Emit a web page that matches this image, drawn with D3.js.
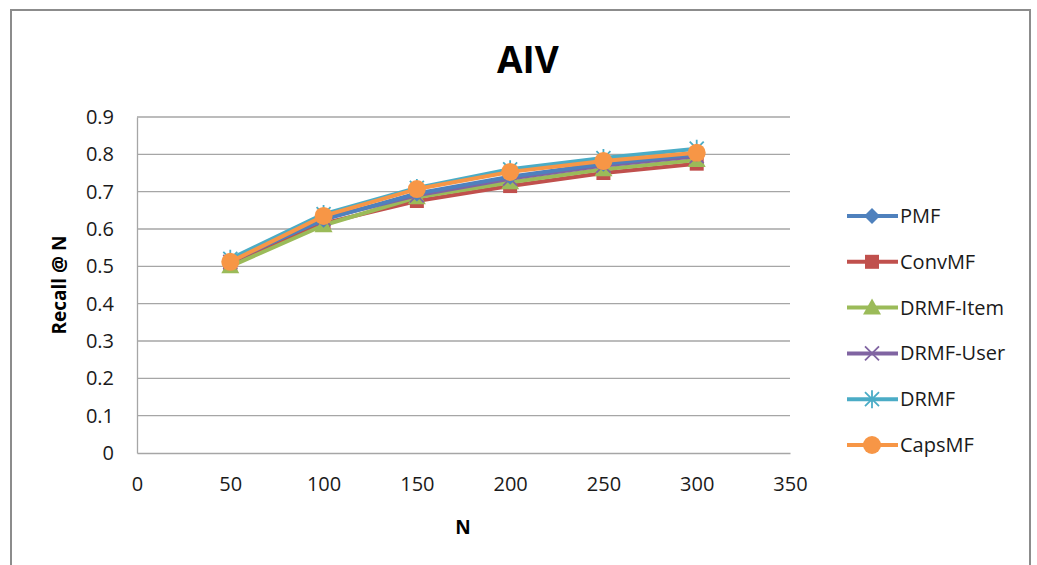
<!DOCTYPE html>
<html><head><meta charset="utf-8">
<script src="https://cdn.jsdelivr.net/npm/d3@7"></script>
<style>body{margin:0;background:#fff;} svg{display:block;}</style>
</head><body>
<script>
const nValues = [50, 100, 150, 200, 250, 300];
const seriesNames = ["PMF", "ConvMF", "DRMF-Item", "DRMF-User", "DRMF", "CapsMF"];
const pmf      = [0.515, 0.625, 0.695, 0.740, 0.775, 0.800];
const convmf   = [0.505, 0.615, 0.675, 0.715, 0.750, 0.775];
const drmfItem = [0.500, 0.610, 0.685, 0.725, 0.760, 0.785];
const drmfUser = [0.512, 0.628, 0.690, 0.735, 0.770, 0.795];
const drmf     = [0.520, 0.640, 0.710, 0.760, 0.790, 0.815];
const capsmf   = [0.512, 0.635, 0.707, 0.753, 0.782, 0.804];
const xTicks = [0, 50, 100, 150, 200, 250, 300, 350];
const yTicks = [0, 0.1, 0.2, 0.3, 0.4, 0.5, 0.6, 0.7, 0.8, 0.9];

const colors = ["#4F81BD", "#C0504D", "#9BBB59", "#8064A2", "#4BACC6", "#F79646"];
const markers = ["diamond", "square", "triangle", "x", "star", "circle"];
const data = [pmf, convmf, drmfItem, drmfUser, drmf, capsmf];
const drawOrder = [1, 2, 3, 0, 4, 5];

const W = 1037, H = 565;
const svg = d3.select("body").append("svg").attr("width", W).attr("height", H);
const font = "'Open Sans', 'Liberation Sans', sans-serif";

svg.append("rect").attr("x", 11).attr("y", 10).attr("width", 1019).attr("height", 570)
  .attr("fill", "#fff").attr("stroke", "#8c8c8c").attr("stroke-width", 2);

const x = d3.scaleLinear().domain([0, 350]).range([137, 790]);
const y = d3.scaleLinear().domain([0, 0.9]).range([453, 117]);

// gridlines
svg.append("g").selectAll("line").data(yTicks.slice(1)).join("line")
  .attr("x1", x(0)).attr("x2", x(350))
  .attr("y1", d => y(d)).attr("y2", d => y(d))
  .attr("stroke", "#a6a6a6").attr("stroke-width", 1.3);

// axes
const xAxis = svg.append("g").attr("transform", `translate(0,${y(0)})`)
  .call(d3.axisBottom(x).tickValues(xTicks).tickSize(0).tickPadding(24).tickFormat(d3.format("d")));
const yAxis = svg.append("g").attr("transform", `translate(${x(0)},0)`)
  .call(d3.axisLeft(y).tickValues(yTicks).tickSize(0).tickPadding(23).tickFormat(d => d === 0 ? "0" : d3.format(".1f")(d)));
[xAxis, yAxis].forEach(g => {
  g.select(".domain").attr("stroke", "#a6a6a6").attr("stroke-width", 1.3);
  g.selectAll("text").attr("font-family", font).attr("font-size", 20).attr("fill", "#1a1a1a");
});

// title and labels
svg.append("text").attr("x", 528).attr("y", 73).attr("text-anchor", "middle")
  .attr("font-family", font).attr("font-weight", "bold").attr("font-size", 37).text("AIV");
svg.append("text").attr("transform", `translate(66,285) rotate(-90)`).attr("text-anchor", "middle")
  .attr("font-family", font).attr("font-weight", "bold").attr("font-size", 19).text("Recall @ N");
svg.append("text").attr("x", 463).attr("y", 534).attr("text-anchor", "middle")
  .attr("font-family", font).attr("font-weight", "bold").attr("font-size", 19).text("N");

function drawMarker(g, type, cx, cy, color) {
  if (type === "diamond") {
    g.append("path").attr("d", `M${cx},${cy-8}L${cx+8},${cy}L${cx},${cy+8}L${cx-8},${cy}Z`).attr("fill", color);
  } else if (type === "square") {
    g.append("rect").attr("x", cx-7).attr("y", cy-7).attr("width", 14).attr("height", 14).attr("fill", color);
  } else if (type === "triangle") {
    g.append("path").attr("d", `M${cx},${cy-9}L${cx+9},${cy+7}L${cx-9},${cy+7}Z`).attr("fill", color);
  } else if (type === "x") {
    g.append("path").attr("d", `M${cx-7},${cy-7}L${cx+7},${cy+7}M${cx-7},${cy+7}L${cx+7},${cy-7}`)
      .attr("stroke", color).attr("stroke-width", 1.8).attr("fill", "none");
  } else if (type === "star") {
    g.append("path").attr("d", `M${cx-7},${cy-7}L${cx+7},${cy+7}M${cx-7},${cy+7}L${cx+7},${cy-7}M${cx},${cy-9}L${cx},${cy+9}`)
      .attr("stroke", color).attr("stroke-width", 1.8).attr("fill", "none");
  } else if (type === "circle") {
    g.append("circle").attr("cx", cx).attr("cy", cy).attr("r", 9).attr("fill", color);
  }
}

const line = d3.line().x((d, i) => x(nValues[i])).y(d => y(d));
drawOrder.forEach(si => {
  const g = svg.append("g");
  g.append("path").datum(data[si]).attr("d", line).attr("fill", "none")
    .attr("stroke", colors[si]).attr("stroke-width", 4).attr("stroke-linejoin", "round");
  data[si].forEach((v, i) => drawMarker(g, markers[si], x(nValues[i]), y(v), colors[si]));
});

// legend
const legendY = d3.scaleLinear().domain([0, 5]).range([216, 445]);
seriesNames.forEach((name, si) => {
  const ly = legendY(si);
  const g = svg.append("g");
  g.append("line").attr("x1", 847).attr("x2", 898).attr("y1", ly).attr("y2", ly)
    .attr("stroke", colors[si]).attr("stroke-width", 4);
  drawMarker(g, markers[si], 872, ly, colors[si]);
  g.append("text").attr("x", 900).attr("y", ly + 7).attr("font-family", font)
    .attr("font-size", 20).attr("fill", "#1a1a1a").text(name);
});
</script>
</body></html>
